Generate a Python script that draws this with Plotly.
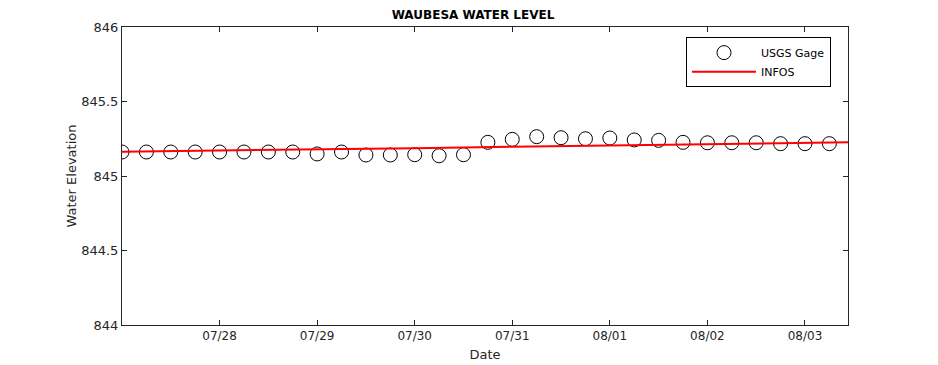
import plotly.graph_objects as go
import pandas as pd

# USGS gage observations (every 6 hours)
gage_times = pd.date_range("2019-07-27 00:00", periods=30, freq="6h")
gage_values = [
    845.161, 845.161, 845.161, 845.161, 845.161, 845.161, 845.161, 845.161,
    845.148, 845.161, 845.141, 845.141, 845.143, 845.136, 845.143, 845.226,
    845.246, 845.264, 845.257, 845.250, 845.255, 845.242, 845.239, 845.226,
    845.223, 845.223, 845.223, 845.217, 845.217, 845.217,
]

# INFOS model series
infos_times = pd.to_datetime([
    "2019-07-27 00:00", "2019-07-28 00:00", "2019-07-29 00:00", "2019-07-30 00:00",
    "2019-07-31 00:00", "2019-08-01 00:00", "2019-08-02 00:00", "2019-08-03 00:00",
    "2019-08-03 10:35",
])
infos_values = [845.163, 845.170, 845.178, 845.187, 845.196, 845.205, 845.213, 845.221, 845.226]

x_tick_vals = pd.date_range("2019-07-28", "2019-08-03", freq="D")
x_tick_text = ["07/28", "07/29", "07/30", "07/31", "08/01", "08/02", "08/03"]
y_tick_vals = [844, 844.5, 845, 845.5, 846]
y_tick_text = ["844", "844.5", "845", "845.5", "846"]

FONT = "DejaVu Sans"
AX = "#262626"
W, H = 930, 357  # page adds an 8px body margin

fig = go.Figure()
fig.add_trace(go.Scatter(
    x=gage_times, y=gage_values, mode="markers", name="USGS Gage",
    marker=dict(symbol="circle-open", size=14, color="black", line=dict(width=1, color="black")),
))
fig.add_trace(go.Scatter(
    x=infos_times, y=infos_values, mode="lines", name="INFOS",
    line=dict(color="#ff0000", width=2),
))

fig.update_layout(
    width=W, height=H,
    margin=dict(l=114, r=90, t=19, b=40, autoexpand=False),
    paper_bgcolor="white", plot_bgcolor="white",
    font=dict(family=FONT, size=12, color=AX),
    title=dict(text="<b>WAUBESA WATER LEVEL</b>", x=0.5, xanchor="center",
               y=1 - 7 / H, yanchor="middle", yref="container",
               font=dict(family=FONT, size=12, color="black")),
    showlegend=True,
    legend=dict(x=0.9766, xanchor="right", y=0.966, yanchor="top",
                bordercolor="black", borderwidth=1, bgcolor="white",
                font=dict(family=FONT, size=11, color="black"),
                itemwidth=64, tracegroupgap=0),
)
fig.update_xaxes(
    automargin=True,
    range=[pd.Timestamp("2019-07-27 00:00"), pd.Timestamp("2019-08-03 10:35")],
    tickvals=x_tick_vals, ticktext=x_tick_text,
    ticks="inside", ticklen=5, tickcolor=AX, tickwidth=1,
    showline=True, linecolor=AX, linewidth=1, mirror="ticks",
    showgrid=False, zeroline=False,
    tickfont=dict(family=FONT, size=12, color=AX),
    title=dict(text="Date", font=dict(family=FONT, size=13, color=AX), standoff=7),
)
fig.update_yaxes(
    automargin=True,
    range=[844, 846],
    tickvals=y_tick_vals, ticktext=y_tick_text,
    ticks="inside", ticklen=5, tickcolor=AX, tickwidth=1,
    showline=True, linecolor=AX, linewidth=1, mirror="ticks",
    showgrid=False, zeroline=False,
    tickfont=dict(family=FONT, size=13, color=AX),
    title=dict(text="Water Elevation", font=dict(family=FONT, size=13, color=AX), standoff=1),
)

fig.write_html("out.html")
